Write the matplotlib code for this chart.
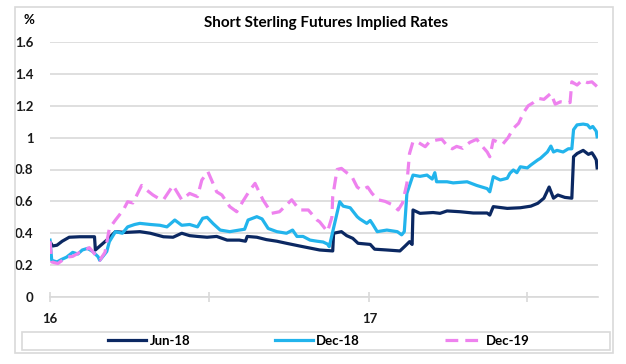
import matplotlib
matplotlib.use("Agg")
import matplotlib.pyplot as plt
import matplotlib.dates as mdates
from matplotlib.patches import Rectangle
import pandas as pd

# Short Sterling futures implied rates (%)
jun18_dates = ["2016-01-01", "2016-01-04", "2016-01-09", "2016-01-15", "2016-01-23", "2016-02-04",
               "2016-02-21", "2016-02-22", "2016-03-06", "2016-03-16", "2016-03-27", "2016-04-13",
               "2016-04-25", "2016-05-10", "2016-05-21", "2016-05-31", "2016-06-09", "2016-06-18",
               "2016-06-29", "2016-07-10", "2016-07-22", "2016-08-05", "2016-08-12", "2016-08-14",
               "2016-08-25", "2016-09-05", "2016-09-17", "2016-09-28", "2016-10-13", "2016-11-05",
               "2016-11-20", "2016-11-21", "2016-11-30", "2016-12-06", "2016-12-13", "2016-12-19",
               "2017-01-02", "2017-01-07", "2017-01-21", "2017-02-05", "2017-02-11", "2017-02-16",
               "2017-02-19", "2017-02-20", "2017-02-28", "2017-03-15", "2017-03-23", "2017-03-31",
               "2017-04-15", "2017-04-30", "2017-05-16", "2017-05-19", "2017-05-23", "2017-06-08",
               "2017-06-23", "2017-07-05", "2017-07-13", "2017-07-20", "2017-07-26", "2017-07-31",
               "2017-08-05", "2017-08-13", "2017-08-21", "2017-08-23", "2017-08-27", "2017-09-03",
               "2017-09-09", "2017-09-13", "2017-09-16", "2017-09-18", "2017-09-19"]
jun18_vals = [0.347, 0.32, 0.325, 0.35, 0.375, 0.378,
              0.378, 0.295, 0.357, 0.41, 0.405, 0.41,
              0.40, 0.378, 0.375, 0.40, 0.385, 0.38,
              0.375, 0.38, 0.357, 0.357, 0.35, 0.38,
              0.375, 0.36, 0.35, 0.337, 0.32, 0.295,
              0.289, 0.40, 0.41, 0.385, 0.368, 0.337,
              0.33, 0.30, 0.295, 0.289, 0.32, 0.347,
              0.33, 0.546, 0.525, 0.53, 0.525, 0.54,
              0.535, 0.527, 0.527, 0.514, 0.567, 0.556,
              0.56, 0.57, 0.588, 0.62, 0.69, 0.62,
              0.64, 0.625, 0.62, 0.88, 0.90, 0.92,
              0.895, 0.905, 0.88, 0.86, 0.81]

dec18_dates = ["2016-01-01", "2016-01-03", "2016-01-09", "2016-01-14", "2016-01-20", "2016-01-27",
               "2016-02-02", "2016-02-07", "2016-02-13", "2016-02-19", "2016-02-25", "2016-02-27",
               "2016-03-06", "2016-03-09", "2016-03-16", "2016-03-24", "2016-03-30", "2016-04-07",
               "2016-04-13", "2016-04-25", "2016-05-06", "2016-05-14", "2016-05-23", "2016-05-31",
               "2016-06-09", "2016-06-18", "2016-06-24", "2016-06-29", "2016-07-06", "2016-07-14",
               "2016-07-25", "2016-08-05", "2016-08-11", "2016-08-15", "2016-08-25", "2016-08-31",
               "2016-09-07", "2016-09-17", "2016-09-28", "2016-10-05", "2016-10-10", "2016-10-17",
               "2016-10-25", "2016-11-02", "2016-11-09", "2016-11-14", "2016-11-16", "2016-11-20",
               "2016-11-28", "2016-12-02", "2016-12-10", "2016-12-18", "2016-12-21", "2016-12-29",
               "2017-01-02", "2017-01-05", "2017-01-10", "2017-01-21", "2017-02-02", "2017-02-07",
               "2017-02-10", "2017-02-13", "2017-02-20", "2017-02-28", "2017-03-08", "2017-03-14",
               "2017-03-17", "2017-03-19", "2017-03-31", "2017-04-07", "2017-04-23", "2017-05-04",
               "2017-05-16", "2017-05-19", "2017-05-23", "2017-05-31", "2017-06-08", "2017-06-11",
               "2017-06-15", "2017-06-19", "2017-06-23", "2017-07-01", "2017-07-05", "2017-07-13",
               "2017-07-16", "2017-07-24", "2017-07-28", "2017-07-31", "2017-08-04", "2017-08-11",
               "2017-08-17", "2017-08-21", "2017-08-23", "2017-08-27", "2017-09-03", "2017-09-08",
               "2017-09-11", "2017-09-14", "2017-09-18", "2017-09-19"]
dec18_vals = [0.357, 0.23, 0.22, 0.235, 0.25, 0.28,
              0.27, 0.295, 0.305, 0.285, 0.253, 0.23,
              0.285, 0.347, 0.41, 0.40, 0.44, 0.455,
              0.462, 0.455, 0.45, 0.44, 0.483, 0.45,
              0.455, 0.44, 0.494, 0.50, 0.46, 0.42,
              0.41, 0.42, 0.425, 0.483, 0.504, 0.49,
              0.43, 0.41, 0.40, 0.42, 0.38, 0.38,
              0.357, 0.35, 0.345, 0.332, 0.316, 0.41,
              0.598, 0.57, 0.56, 0.504, 0.49, 0.462,
              0.48, 0.455, 0.41, 0.42, 0.41, 0.39,
              0.41, 0.65, 0.765, 0.757, 0.765, 0.74,
              0.78, 0.723, 0.723, 0.716, 0.723, 0.70,
              0.68, 0.66, 0.755, 0.734, 0.745, 0.776,
              0.797, 0.78, 0.817, 0.81, 0.828, 0.86,
              0.87, 0.91, 0.947, 0.91, 0.92, 0.91,
              0.93, 0.93, 1.05, 1.08, 1.085, 1.08,
              1.06, 1.07, 1.04, 1.005]

dec19_dates = ["2016-01-01", "2016-01-03", "2016-01-10", "2016-01-20", "2016-01-27", "2016-02-04",
               "2016-02-12", "2016-02-15", "2016-02-19", "2016-02-27", "2016-03-04", "2016-03-09",
               "2016-03-16", "2016-03-25", "2016-03-30", "2016-04-05", "2016-04-15", "2016-04-21",
               "2016-04-28", "2016-05-04", "2016-05-10", "2016-05-21", "2016-05-31", "2016-06-09",
               "2016-06-18", "2016-06-23", "2016-06-30", "2016-07-10", "2016-07-16", "2016-07-25",
               "2016-08-02", "2016-08-09", "2016-08-17", "2016-08-23", "2016-09-01", "2016-09-11",
               "2016-09-20", "2016-10-04", "2016-10-13", "2016-10-23", "2016-11-02", "2016-11-05",
               "2016-11-14", "2016-11-19", "2016-11-20", "2016-11-25", "2016-11-30", "2016-12-06",
               "2016-12-12", "2016-12-18", "2016-12-23", "2016-12-30", "2017-01-04", "2017-01-11",
               "2017-01-19", "2017-01-28", "2017-02-03", "2017-02-08", "2017-02-13", "2017-02-16",
               "2017-02-20", "2017-02-26", "2017-03-06", "2017-03-11", "2017-03-19", "2017-03-25",
               "2017-03-31", "2017-04-06", "2017-04-11", "2017-04-18", "2017-04-26", "2017-05-04",
               "2017-05-08", "2017-05-16", "2017-05-19", "2017-05-23", "2017-05-27", "2017-06-03",
               "2017-06-09", "2017-06-15", "2017-06-21", "2017-06-27", "2017-07-02", "2017-07-08",
               "2017-07-14", "2017-07-20", "2017-07-28", "2017-08-02", "2017-08-08", "2017-08-13",
               "2017-08-19", "2017-08-21", "2017-08-27", "2017-09-02", "2017-09-08", "2017-09-13",
               "2017-09-19"]
dec19_vals = [0.35, 0.22, 0.21, 0.25, 0.255, 0.28,
              0.30, 0.31, 0.285, 0.23, 0.28, 0.43,
              0.483, 0.546, 0.598, 0.59, 0.70, 0.67,
              0.64, 0.62, 0.61, 0.70, 0.61, 0.65,
              0.63, 0.734, 0.786, 0.66, 0.64, 0.567,
              0.535, 0.60, 0.67, 0.713, 0.61, 0.525,
              0.535, 0.61, 0.546, 0.546, 0.483, 0.472,
              0.41, 0.50, 0.63, 0.80, 0.807, 0.78,
              0.755, 0.69, 0.67, 0.69, 0.65, 0.61,
              0.60, 0.577, 0.546, 0.59, 0.713, 0.90,
              0.975, 0.97, 0.943, 0.975, 0.985, 0.99,
              0.95, 0.93, 0.945, 0.933, 0.97, 0.99,
              0.96, 0.91, 0.88, 0.985, 0.975, 0.96,
              1.0, 1.058, 1.09, 1.16, 1.20, 1.22,
              1.246, 1.24, 1.278, 1.21, 1.225, 1.22,
              1.22, 1.35, 1.33, 1.36, 1.345, 1.35,
              1.32]

y_ticks = [0, 0.2, 0.4, 0.6, 0.8, 1.0, 1.2, 1.4, 1.6]
y_labels = ["0", "0.2", "0.4", "0.6", "0.8", "1", "1.2", "1.4", "1.6"]

plt.rcParams["font.family"] = ["Lato", "DejaVu Sans"]
plt.rcParams["font.weight"] = "bold"

fig = plt.figure(figsize=(6.26, 3.64), dpi=100)
ax = fig.add_axes([50 / 626, 67 / 364, 548 / 626, 255 / 364])

grey = "#d9d9d9"
# light grey frame round the whole chart, and the legend box
fig.patches.append(Rectangle((15 / 626, 11 / 364), 598 / 626, 346 / 364,
                             transform=fig.transFigure, fill=False,
                             edgecolor=grey, linewidth=1.2))
fig.patches.append(Rectangle((22 / 626, 14 / 364), 588 / 626, 18 / 364,
                             transform=fig.transFigure, fill=False,
                             edgecolor=grey, linewidth=1.2))

ax.plot(pd.to_datetime(jun18_dates), jun18_vals, color="#0b2862", lw=2.3, label="Jun-18")
ax.plot(pd.to_datetime(dec18_dates), dec18_vals, color="#22b4ec", lw=2.3, label="Dec-18")
ax.plot(pd.to_datetime(dec19_dates), dec19_vals, color="#ee82ee", lw=2.3,
        dashes=(4, 2.2), label="Dec-19")

ax.set_ylim(0, 1.6)
ax.set_xlim(pd.Timestamp("2016-01-01"), pd.Timestamp("2017-09-20"))
ax.set_yticks(y_ticks)
ax.set_yticklabels(y_labels)
ax.grid(axis="y", color=grey, lw=1.2)
ax.set_axisbelow(True)

ax.xaxis.set_major_locator(mdates.MonthLocator(bymonth=[1]))
ax.xaxis.set_major_formatter(mdates.DateFormatter("%y"))
ax.xaxis.set_minor_locator(mdates.MonthLocator(bymonth=[7]))

for s in ["top", "right", "left"]:
    ax.spines[s].set_visible(False)
ax.spines["bottom"].set_color(grey)
ax.spines["bottom"].set_linewidth(1.2)

ax.tick_params(axis="y", length=0, pad=12, labelsize=9.5, labelcolor="#1a1a1a")
ax.tick_params(axis="x", which="both", direction="inout", length=7, width=1.2,
               color=grey, labelsize=9.5, labelcolor="#1a1a1a", pad=8)

fig.text(23 / 626, 1 - 20 / 364, "%", fontsize=9.5, fontweight="bold", va="center")
fig.text(326 / 626, 1 - 23 / 364, "Short Sterling Futures Implied Rates",
         fontsize=11, fontweight="bold", ha="center", va="center")

leg = fig.legend(loc="center", bbox_to_anchor=(319 / 626, 1 - 341 / 364), ncol=3,
                 fontsize=9.5, frameon=False, handlelength=2.9,
                 columnspacing=6.4, handletextpad=0.25)

fig.savefig("out.png", dpi=100)
